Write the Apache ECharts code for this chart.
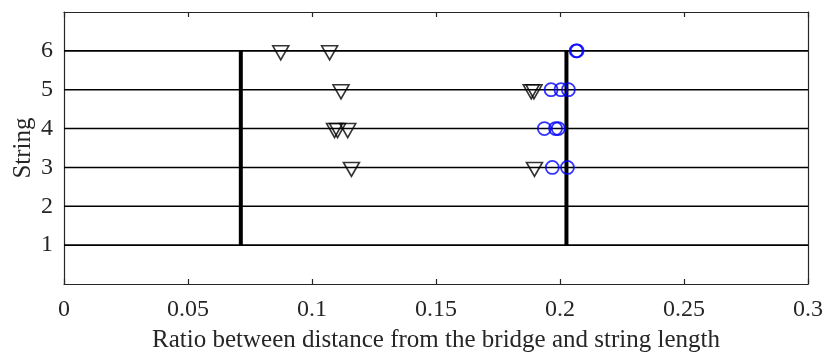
<!DOCTYPE html>
<html>
<head>
<meta charset="utf-8">
<script src="https://cdn.jsdelivr.net/npm/echarts@6/dist/echarts.min.js"></script>
<style>
  html, body { margin: 0; padding: 0; background: #fff; }
  #chart { width: 827px; height: 356px; }
</style>
</head>
<body>
<div id="chart"></div>
<script>
// Strings of the instrument (one horizontal line each)
const strings = [1, 2, 3, 4, 5, 6];
const xRange = [0, 0.3];

// Reference ratios drawn as thick vertical bars spanning strings 1..6
const refRatios = [0.0713, 0.2026];

// Measured ratios (black down-triangles) and their strings
const triangleRatios = [0.0874, 0.1071, 0.1117, 0.1884, 0.1895, 0.1091, 0.1103, 0.1144, 0.1159, 0.1897];
const triangleStrings = [6, 6, 5, 5, 5, 4, 4, 4, 3, 3];

// Measured ratios (blue circles) and their strings
const circleRatios = [0.2065, 0.2069, 0.1964, 0.2004, 0.2034, 0.1937, 0.1982, 0.1993, 0.1969, 0.2030];
const circleStrings = [6, 6, 5, 5, 5, 4, 4, 4, 3, 3];

const FONT = 'Liberation Serif';
const FS = 24;
const chart = echarts.init(document.getElementById('chart'), null, { renderer: 'canvas' });

const series = [];
strings.forEach(s => {
  series.push({
    type: 'line', data: [[xRange[0], s], [xRange[1], s]],
    symbol: 'none', silent: true, z: 1,
    lineStyle: { color: '#000', width: 1.6 }
  });
});
refRatios.forEach(r => {
  series.push({
    type: 'line', data: [[r, strings[0]], [r, strings[strings.length - 1]]],
    symbol: 'none', silent: true, z: 2,
    lineStyle: { color: '#000', width: 4 }
  });
});
series.push({
  type: 'scatter', z: 3,
  data: triangleRatios.map((r, i) => [r, triangleStrings[i]]),
  symbol: 'path://M0,0 L16,0 L8,14 Z', symbolSize: [16, 14], symbolOffset: [0, 2],
  itemStyle: { color: 'rgba(0,0,0,0)', borderColor: '#000', borderWidth: 1.6 }
});
series.push({
  type: 'scatter', z: 4,
  data: circleRatios.map((r, i) => [r, circleStrings[i]]),
  symbol: 'circle', symbolSize: 13,
  itemStyle: { color: 'rgba(0,0,0,0)', borderColor: '#0000ff', borderWidth: 1.8 }
});

const axisLine = { show: true, onZero: false, lineStyle: { color: '#262626', width: 1.2 } };
const tick = { show: true, inside: true, length: 5, lineStyle: { color: '#262626', width: 1.2 } };

chart.setOption({
  animation: false,
  backgroundColor: '#fff',
  grid: { left: 64, right: 19, top: 12, bottom: 72, containLabel: false, outerBoundsMode: 'none' },
  xAxis: [{
    type: 'value', min: 0, max: 0.3, interval: 0.05, position: 'bottom',
    name: 'Ratio between distance from the bridge and string length',
    nameLocation: 'middle', nameGap: 44, nameMoveOverlap: false,
    nameTextStyle: { fontFamily: FONT, fontSize: 25, color: '#262626' },
    axisLine, axisTick: tick, splitLine: { show: false },
    axisLabel: { fontFamily: FONT, fontSize: FS, color: '#262626', margin: 14,
      formatter: v => String(+v.toFixed(2)) }
  }, {
    type: 'value', min: 0, max: 0.3, interval: 0.05, position: 'top',
    axisLine, axisTick: tick, splitLine: { show: false }, axisLabel: { show: false }
  }],
  yAxis: [{
    type: 'value', min: 0, max: 7, interval: 1, position: 'left',
    name: 'String', nameLocation: 'middle', nameGap: 28, nameRotate: 90, nameMoveOverlap: false,
    nameTextStyle: { fontFamily: FONT, fontSize: 25, color: '#262626' },
    axisLine, axisTick: { show: false }, splitLine: { show: false },
    axisLabel: { fontFamily: FONT, fontSize: FS, color: '#262626', margin: 11,
      formatter: v => (strings.includes(v) ? String(v) : '') }
  }, {
    type: 'value', min: 0, max: 7, interval: 1, position: 'right',
    axisLine, axisTick: { show: false }, splitLine: { show: false }, axisLabel: { show: false }
  }],
  series
});
</script>
</body>
</html>
